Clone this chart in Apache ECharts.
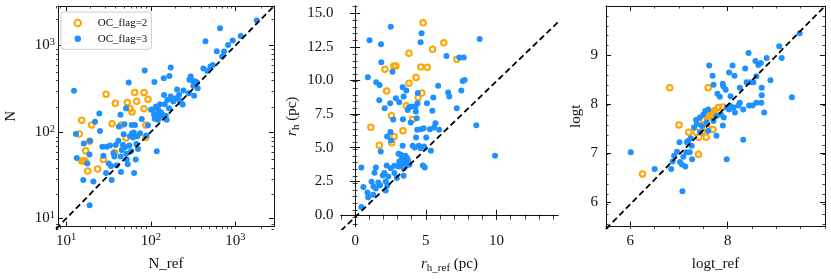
<!DOCTYPE html>
<html><head><meta charset="utf-8">
<script src="https://cdn.jsdelivr.net/npm/echarts@6/dist/echarts.min.js"></script>
<style>html,body{margin:0;padding:0;background:#fff}#c{width:831px;height:279px}</style>
</head><body><div id="c"></div>
<script>
// ---------- Panel 1: N vs N_ref (log-log) ----------
const nRefFlag2 = [15.0,16.0,17.8,19.8,20.9,16.0,16.7,17.5,18.8,24.6,28.7,30.8,36.2,38.9,39.6,46.6,52.8,54.7,58.9,62.1,66.7,70.4,85.9,85.9,89.8,90.6,95.5];
const nFlag2    = [98,140,63,81,124,48,48,48,37,39,50,279,128,60,220,124,88,224,190,174,292,232,292,190,89,124,245];
const nRefFlag3 = [13.0,13.7,14.0,16.9,16.7,18.6,20.0,19.7,19.8,21.9,22.9,25.7,26.2,27.9,28.7,30.8,31.4,33.1,34.3,35.3,35.9,37.6,38.6,40.0,41.1,43.0,43.7,45.4,45.7,46.1,47.0,48.7,49.6,50.5,51.4,52.8,53.3,53.8,55.3,56.8,57.8,58.9,60.4,61.5,62.1,63.8,65.0,65.6,67.3,68.6,69.8,71.8,73.0,77.1,80.6,87.4,91.4,95.5,103.7,109.4,112.4,113.5,114.5,118.6,120.8,121.9,125.2,126.3,132.1,133.3,135.8,140.6,145.9,147.2,149.9,153.9,158.1,161,168.4,169.9,176.2,176.2,184.2,189.3,203.4,208.9,220.5,224.6,230.6,243.4,247.9,286.2,291.3,302,316,324.5,330.6,342.4,358.2,364.8,424.8,448.7,473.4,514,547,609.5,666.4,703,741.7,826.5,937.6,1164,1791];
const nFlag3    = [305,98,52,76,29,45,82,57,15,28,135,168,106,70,55,35,70,45,72,42,29,59,54,73,43,82,119,162,54,36,64,73,97,126,69,193,58,50,44,379,72,92,62,124,100,89,102,35,124,50,75,92,66,100,145,520,94,123,185,188,163,386,146,202,62,162,142,185,214,155,172,162,425,274,214,158,142,240,193,452,563,262,245,230,251,316,274,234,226,213,307,287,407,444,400,348,267,389,379,327,548,1125,515,578,604,865,1585,752,857,1023,1146,1295,1940];

// ---------- Panel 2: r_h vs r_h_ref (pc) ----------
const rhRefFlag2 = [4.81,6.27,5.48,3.81,7.20,2.11,2.74,2.88,4.65,5.10,4.31,3.81,2.23,4.72,4.46,3.62,2.57,4.07,1.11,3.38,2.76,2.59,1.71];
const rhFlag2    = [14.31,12.84,12.35,12.06,11.62,10.88,11.13,11.13,11.05,11.03,10.27,9.85,9.29,9.14,8.80,8.19,7.45,7.18,6.62,6.35,5.93,5.47,5.29];
const rhRefFlag3 = [2.52,1.02,1.83,4.70,4.63,8.81,6.46,7.37,7.68,1.85,2.64,0.90,1.49,1.73,3.36,3.62,4.43,5.87,7.51,7.61,7.75,6.58,6.66,2.88,3.43,5.53,1.71,2.48,3.12,2.09,3.81,4.02,4.27,4.41,5.08,3.72,4.29,5.46,7.19,2.69,3.38,4.36,3.93,5.68,5.58,8.57,4.39,4.67,4.84,5.29,5.94,2.50,2.26,4.31,5.03,2.54,1.81,3.36,4.07,4.22,4.50,4.63,4.87,5.36,9.90,3.07,3.24,3.43,3.55,3.67,3.31,3.12,3.50,3.74,3.31,3.60,3.07,3.83,3.43,2.78,2.52,4.79,4.93,2.23,0.44,1.47,1.37,2.07,1.95,2.35,2.95,3.43,2.78,1.16,1.64,1.76,2.16,2.28,1.30,1.47,2.16,0.87,0.58,0.92,1.28,0.44];
const rhFlag3    = [14.02,13.01,12.72,13.53,12.87,13.11,11.86,11.74,11.74,11.40,10.69,10.29,9.93,9.73,9.56,9.31,9.14,9.66,9.31,10.02,10.10,9.17,8.87,8.75,8.87,8.80,8.60,8.38,8.46,8.01,8.09,8.14,8.14,8.38,8.38,7.89,7.77,7.82,8.01,7.18,7.21,7.28,6.96,6.91,6.59,6.76,6.42,6.47,6.54,6.47,6.42,6.27,5.93,5.86,5.86,5.64,4.83,5.25,5.25,5.12,5.25,5.07,5.20,4.88,4.51,4.66,4.58,4.46,4.51,4.34,4.26,4.09,4.02,4.17,3.85,3.80,3.73,3.85,3.60,3.77,3.60,3.80,3.65,3.80,3.65,3.65,3.26,3.24,3.06,2.99,2.87,3.04,3.24,2.60,2.55,2.35,2.62,2.35,2.25,2.11,1.96,1.81,2.21,1.45,1.64,0.74];

// ---------- Panel 3: logt vs logt_ref ----------
const logtRefFlag2 = [6.81,7.60,7.00,7.20,7.35,7.40,7.41,7.56,7.70,7.40,6.25,7.50,7.58,7.64,7.69,7.74,7.81,7.90,7.47,7.57,7.67];
const logtFlag2    = [8.35,8.35,7.60,7.45,7.45,7.65,7.35,7.35,7.51,7.01,6.61,7.71,7.75,7.77,7.85,7.89,7.95,7.96,7.45,7.55,7.81];
const logtRefFlag3 = [6.01,6.50,6.84,7.07,7.01,6.87,6.90,6.96,7.02,7.06,7.13,7.09,7.15,7.22,7.27,7.16,7.19,7.24,7.35,7.43,7.50,7.54,7.60,7.57,7.47,7.71,7.77,7.86,7.90,7.92,7.98,8.03,8.06,8.12,8.15,8.22,8.25,8.32,8.44,8.51,8.59,8.69,8.75,8.32,7.98,9.32,7.62,7.69,7.71,7.79,7.84,7.90,7.91,7.96,8.03,8.10,8.14,8.06,8.25,8.36,8.39,8.43,8.46,8.53,8.57,8.59,8.63,8.68,8.70,8.70,8.80,8.88,9.06,9.11,9.48,7.43,7.60,7.31,7.77,7.26,7.37];
const logtFlag3    = [7.05,6.71,6.71,6.26,7.25,6.86,6.98,7.06,6.85,6.80,6.76,6.96,7.05,7.05,6.91,7.25,7.28,7.33,7.70,7.75,7.81,7.88,7.91,7.65,7.58,7.68,7.78,7.81,7.59,7.75,7.95,7.91,7.98,7.95,7.85,7.99,8.05,7.91,7.99,7.99,8.05,8.05,7.85,7.30,6.91,8.16,8.80,8.59,8.41,8.23,8.17,8.43,8.38,8.31,8.66,8.80,8.59,8.18,8.35,8.74,8.46,9.05,8.46,8.46,8.89,8.58,8.81,8.85,8.35,8.20,8.95,8.50,9.19,8.95,9.45,7.45,7.48,7.55,7.38,7.18,7.62];

// ---------- axis limits and tick labels ----------
const p1Limits = [8, 2850];
const p1MajorExp = [1, 2, 3];
const p2XLimits = [-1.0, 14.35], p2YLimits = [-0.88, 15.54];
const p2XMajor = [0, 5, 10], p2YMajor = [0, 2.5, 5, 7.5, 10, 12.5, 15];
const p3Limits = [5.5, 10];
const p3XMajor = [6, 8], p3YMajor = [6, 7, 8, 9];
const legendNames = ['OC_flag=2', 'OC_flag=3'];

const FONT = 'Liberation Serif';
const ORANGE = '#FFA500', BLUE = '#1E90FF', INK = '#111';

function zip(a, b) { return a.map((v, i) => [v, b[i]]); }
function range(a, b, step) { const o = []; const n = Math.round((b - a) / step); for (let i = 0; i <= n; i++) o.push(+(a + i * step).toFixed(6)); return o; }
function logMinor(lo, hi) { const o = []; for (let e = 0; e <= 3; e++) for (let m = 2; m <= 9; m++) { const v = Math.log10(m * Math.pow(10, e)); if (v >= lo - 1e-9 && v <= hi + 1e-9) o.push(v); } return o; }

const grids = [], xAxes = [], yAxes = [], series = [];
const tickLabelStyle = { fontFamily: FONT, fontSize: 15, color: INK, lineHeight: 17 };
const nameStyle = { fontFamily: FONT, fontSize: 15, color: INK, lineHeight: 20,
  rich: { i: { fontFamily: FONT, fontSize: 15, fontStyle: 'italic', color: INK, lineHeight: 20 },
          s: { fontFamily: FONT, fontSize: 11, color: INK, lineHeight: 14, verticalAlign: 'bottom' } } };
const supRich = { b: { fontFamily: FONT, fontSize: 15, color: INK, lineHeight: 17 },
                  s: { fontFamily: FONT, fontSize: 10.5, color: INK, lineHeight: 8, verticalAlign: 'top' } };

function addPanel(p) {
  // data grid
  const g0 = grids.length; grids.push(Object.assign({}, p.rect));
  const hidden = { axisLine: { show: false }, axisTick: { show: false }, axisLabel: { show: false }, splitLine: { show: false } };
  xAxes.push(Object.assign({ gridIndex: g0, type: p.type, logBase: 10, min: p.xr[0], max: p.xr[1] }, hidden));
  yAxes.push(Object.assign({ gridIndex: g0, type: p.type, logBase: 10, min: p.yr[0], max: p.yr[1] }, hidden));
  const xi = xAxes.length - 1, yi = yAxes.length - 1;
  series.push({ name: legendNames[0], type: 'scatter', xAxisIndex: xi, yAxisIndex: yi, data: zip(p.ref2, p.val2),
    symbol: 'circle', symbolSize: 5.5, itemStyle: { color: 'rgba(255,255,255,0)', borderColor: ORANGE, borderWidth: 2, opacity: 1 }, z: 2 });
  series.push({ name: legendNames[1], type: 'scatter', xAxisIndex: xi, yAxisIndex: yi, data: zip(p.ref3, p.val3),
    symbol: 'circle', symbolSize: 6, itemStyle: { color: BLUE, opacity: 1 }, z: 3 });
  const lo = Math.min(p.xr[0], p.yr[0]), hi = Math.max(p.xr[1], p.yr[1]);
  series.push({ type: 'line', xAxisIndex: xi, yAxisIndex: yi, data: [[lo, lo], [hi, hi]], symbol: 'none', clip: true,
    lineStyle: { color: '#000', width: 1.8, type: [6, 3.5] }, z: 4 });

  // major tick grid (frame, labels, names)
  const g1 = grids.length; grids.push(Object.assign({}, p.rect));
  const lineS = { show: true, lineStyle: { color: INK, width: 1 } };
  const majT = (vals) => ({ show: true, inside: true, length: 5, customValues: vals, lineStyle: { color: INK, width: 1 } });
  xAxes.push({ gridIndex: g1, type: 'value', position: 'bottom', min: p.tx[0], max: p.tx[1], axisLine: lineS,
    axisTick: majT(p.xMajor), splitLine: { show: false },
    axisLabel: Object.assign({ customValues: p.xMajor, formatter: p.xFmt, margin: 5.5, rich: supRich }, tickLabelStyle),
    name: p.xName, nameLocation: 'middle', nameGap: p.xNameGap, nameTextStyle: nameStyle });
  xAxes.push({ gridIndex: g1, type: 'value', position: 'top', min: p.tx[0], max: p.tx[1], axisLine: lineS,
    axisTick: majT(p.xMajor), axisLabel: { show: false }, splitLine: { show: false } });
  yAxes.push({ gridIndex: g1, type: 'value', position: 'left', min: p.ty[0], max: p.ty[1], axisLine: lineS,
    axisTick: majT(p.yMajor), splitLine: { show: false },
    axisLabel: Object.assign({ customValues: p.yMajor, formatter: p.yFmt, margin: p.yLabelMargin, rich: supRich }, tickLabelStyle),
    name: p.yName, nameLocation: 'middle', nameRotate: 90, nameGap: p.yNameGap, nameTextStyle: nameStyle });
  yAxes.push({ gridIndex: g1, type: 'value', position: 'right', min: p.ty[0], max: p.ty[1], axisLine: lineS,
    axisTick: majT(p.yMajor), axisLabel: { show: false }, splitLine: { show: false } });

  // minor tick grid
  const g2 = grids.length; grids.push(Object.assign({}, p.rect));
  const minT = (vals) => ({ show: true, inside: true, length: 2.5, customValues: vals, lineStyle: { color: INK, width: 0.8 } });
  const off = { axisLine: { show: false }, axisLabel: { show: false }, splitLine: { show: false } };
  xAxes.push(Object.assign({ gridIndex: g2, type: 'value', position: 'bottom', min: p.tx[0], max: p.tx[1], axisTick: minT(p.xMinor) }, off));
  xAxes.push(Object.assign({ gridIndex: g2, type: 'value', position: 'top', min: p.tx[0], max: p.tx[1], axisTick: minT(p.xMinor) }, off));
  yAxes.push(Object.assign({ gridIndex: g2, type: 'value', position: 'left', min: p.ty[0], max: p.ty[1], axisTick: minT(p.yMinor) }, off));
  yAxes.push(Object.assign({ gridIndex: g2, type: 'value', position: 'right', min: p.ty[0], max: p.ty[1], axisTick: minT(p.yMinor) }, off));
}

const l1 = [Math.log10(p1Limits[0]), Math.log10(p1Limits[1])];
const supFmt = v => '{b|10}{s|' + Math.round(v) + '}';
addPanel({ rect: { left: 56, top: 6, width: 218, height: 223 }, type: 'log',
  xr: p1Limits, yr: p1Limits, tx: l1, ty: l1,
  xMajor: p1MajorExp, yMajor: p1MajorExp, xMinor: logMinor(l1[0], l1[1]), yMinor: logMinor(l1[0], l1[1]),
  xFmt: supFmt, yFmt: supFmt, xName: 'N_ref', yName: 'N', xNameGap: 24, yNameGap: 37, yLabelMargin: 3,
  ref2: nRefFlag2, val2: nFlag2, ref3: nRefFlag3, val3: nFlag3 });
addPanel({ rect: { left: 341, top: 6, width: 217, height: 223 }, type: 'value',
  xr: p2XLimits, yr: p2YLimits, tx: p2XLimits, ty: p2YLimits,
  xMajor: p2XMajor, yMajor: p2YMajor, xMinor: range(-1, 14, 1), yMinor: range(-0.5, 15.5, 0.5),
  xFmt: v => String(v), yFmt: v => v.toFixed(1),
  xName: '{i|r}{s|h_ref} (pc)', yName: '{i|r}{s|h} (pc)', xNameGap: 22, yNameGap: 39, yLabelMargin: 7.5,
  ref2: rhRefFlag2, val2: rhFlag2, ref3: rhRefFlag3, val3: rhFlag3 });
addPanel({ rect: { left: 606, top: 6, width: 219, height: 223 }, type: 'value',
  xr: p3Limits, yr: p3Limits, tx: p3Limits, ty: p3Limits,
  xMajor: p3XMajor, yMajor: p3YMajor, xMinor: range(5.5, 10, 0.5), yMinor: range(5.6, 10, 0.2),
  xFmt: v => String(v), yFmt: v => String(v),
  xName: 'logt_ref', yName: 'logt', xNameGap: 24, yNameGap: 20, yLabelMargin: 8,
  ref2: logtRefFlag2, val2: logtFlag2, ref3: logtRefFlag3, val3: logtFlag3 });

const chart = echarts.init(document.getElementById('c'), null, { renderer: 'canvas' });
chart.setOption({
  animation: false,
  backgroundColor: '#fff',
  legend: { data: legendNames, orient: 'vertical', left: 61, top: 12, itemWidth: 30, itemHeight: 6.5, itemGap: 4.8,
    padding: [5.5, 4, 5, 12.5], borderColor: '#cccccc', borderWidth: 1, borderRadius: 3,
    backgroundColor: 'rgba(255,255,255,0.8)', selectedMode: false,
    textStyle: { fontFamily: FONT, fontSize: 11, color: INK } },
  grid: grids, xAxis: xAxes, yAxis: yAxes, series: series
});
</script></body></html>
